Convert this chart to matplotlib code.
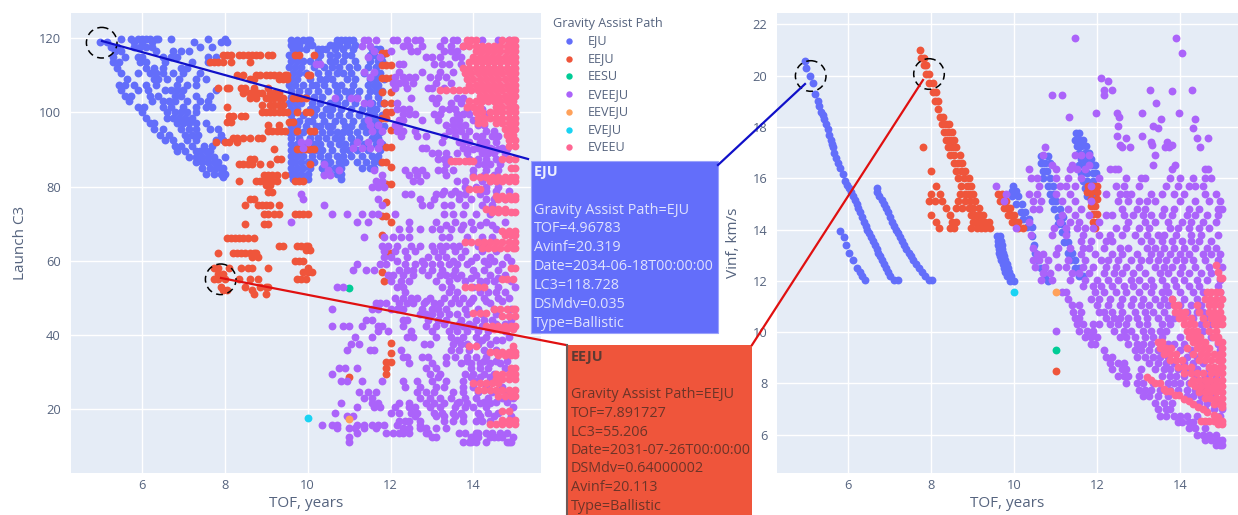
import matplotlib
matplotlib.use('Agg')
import matplotlib.pyplot as plt
from matplotlib.patches import Circle, Rectangle
from matplotlib.lines import Line2D

#### values: each row is (y value, [TOF values])
eju_c3 = [
    (119.7, [5.5, 5.75, 5.9, 6.0, 6.1, 6.2, 6.35, 6.4, 6.7, 7.6, 8.0]),
    (118.9, [5.0, 5.15, 5.8, 6.0, 6.25, 7.25, 7.9, 8.05]),
    (117.7, [5.25, 5.4, 5.8, 5.95, 6.1, 6.25, 7.4, 7.7]),
    (116.5, [5.35, 5.5, 6.35, 6.75, 6.95, 7.15]),
    (115, [5.3, 5.6, 5.9, 6.0, 6.5, 6.7, 6.85, 7.6, 7.8]),
    (113.5, [5.3, 5.45, 5.95, 6.1, 6.55, 7.2, 7.6]),
    (112, [5.4, 6.1, 6.3, 6.5, 6.95, 7.1]),
    (110.5, [5.5, 5.9, 6.2, 6.35, 6.5, 6.75, 7.0, 7.4]),
    (109, [5.65, 6.3, 6.4, 6.6, 6.9, 7.3, 7.55]),
    (107.5, [5.45, 5.6, 5.8, 6.1, 6.35, 6.85, 7.1, 7.3]),
    (106, [5.5, 5.9, 6.15, 6.55, 6.7, 6.85, 7.0, 7.8]),
    (104.5, [5.6, 5.75, 6.2, 6.4, 6.8, 6.95, 7.3, 7.65]),
    (103, [5.7, 6.25, 6.5, 6.65, 6.8, 7.1, 7.4, 7.6]),
    (101.5, [5.9, 6.05, 6.5, 6.7, 7.0, 7.3, 7.55, 7.7]),
    (100, [6.0, 6.6, 6.8, 6.95, 7.1, 7.3]),
    (98.5, [6.1, 6.6, 6.75, 6.9, 7.05, 7.2]),
    (97, [6.2, 6.3, 6.85, 7.0, 7.15, 7.3, 7.55]),
    (95.5, [6.3, 6.5, 6.95, 7.15, 7.3, 7.65, 7.85]),
    (94, [6.45, 6.65, 7.05, 7.2, 7.35, 7.9]),
    (92.5, [6.55, 6.75, 7.1, 7.3, 7.8, 7.95]),
    (91, [6.8, 6.95, 7.2, 7.5, 7.7]),
    (89.5, [6.85, 7.05, 7.3, 7.4, 7.55, 7.65]),
    (88, [7.15, 7.3, 7.45, 7.6, 7.75, 8.0]),
    (86.5, [7.3, 7.45, 7.6, 7.75, 7.85]),
    (85, [7.45, 7.65, 7.8, 7.9, 7.95]),
    (83.5, [7.55, 7.75, 7.9, 8.0]),
    (82.5, [7.95]),
    (119.6, [9.6, 9.75, 9.9, 10.0, 10.05, 10.7, 10.8, 10.9, 11.0, 11.1]),
    (118.3, [9.6, 9.7, 9.8, 10.0, 10.1, 10.55, 10.65, 10.75, 10.95, 11.15]),
    (117, [9.65, 9.8, 9.95, 10.25, 10.35, 10.45, 10.65, 10.85, 11.1, 11.55, 11.65, 11.75]),
    (115.4, [9.55, 9.7, 10.2, 10.3, 10.55, 10.7, 10.9, 11.05, 11.5, 11.6, 11.8]),
    (113.8, [9.6, 9.75, 9.9, 10.05, 10.25, 10.55, 10.65, 10.85, 11.15, 11.5, 11.7, 11.8]),
    (112.2, [9.55, 9.7, 9.85, 10.15, 10.4, 10.6, 10.75, 11.0, 11.2, 11.45, 11.65]),
    (110.6, [9.65, 9.8, 9.95, 10.25, 10.5, 10.7, 10.85, 11.05, 11.35, 11.6, 11.75]),
    (109, [9.6, 9.75, 10.05, 10.3, 10.45, 10.6, 10.95, 11.15, 11.5, 11.65, 11.85]),
    (107.4, [9.55, 9.7, 9.9, 10.1, 10.2, 10.4, 10.65, 10.8, 11.1, 11.45, 11.6, 11.7]),
    (105.8, [9.6, 9.8, 10.0, 10.25, 10.5, 10.7, 10.9, 11.05, 11.25, 11.5, 11.65, 11.8]),
    (104.2, [9.6, 9.75, 9.95, 10.15, 10.35, 10.75, 11.0, 11.2, 11.45, 11.7]),
    (102.6, [9.55, 9.7, 9.85, 10.1, 10.3, 10.55, 10.7, 10.9, 11.15, 11.4, 11.55, 11.75, 11.85]),
    (101, [9.6, 9.75, 10.05, 10.2, 10.45, 10.6, 10.8, 11.05, 11.3, 11.5, 11.65]),
    (99.4, [9.6, 9.9, 10.15, 10.35, 10.55, 10.75, 11.0, 11.25, 11.45, 11.6, 11.8]),
    (97.8, [9.65, 9.8, 10.0, 10.1, 10.4, 10.65, 10.85, 11.1, 11.35, 11.55, 11.7]),
    (96.2, [9.6, 9.75, 9.95, 10.2, 10.3, 10.5, 10.6, 10.9, 11.05, 11.3, 11.45, 11.65, 11.85]),
    (94.6, [9.55, 9.7, 9.9, 10.15, 10.35, 10.55, 10.7, 10.85, 11.0, 11.2, 11.4, 11.6, 11.75]),
    (93, [9.6, 9.8, 10.05, 10.25, 10.45, 10.65, 10.8, 11.05, 11.25, 11.55, 11.7]),
    (91.4, [9.6, 9.75, 9.95, 10.15, 10.3, 10.55, 10.75, 10.9, 11.1, 11.35, 11.65, 11.8]),
    (89.8, [9.6, 9.7, 9.85, 10.05, 10.2, 10.35, 10.6, 10.85, 11.0, 11.2, 11.45, 11.75]),
    (88.2, [9.6, 9.75, 9.9, 10.1, 10.3, 10.5, 10.7, 10.85, 11.05, 11.3, 11.55, 11.7]),
    (86.6, [9.6, 9.7, 9.85, 10.0, 10.15, 10.4, 10.55, 10.75, 10.9, 11.2, 11.4, 11.6, 11.75]),
    (85, [9.6, 9.75, 9.9, 10.05, 10.35, 10.5, 10.65, 10.8, 11.3, 11.5, 11.6]),
    (83.5, [9.6, 9.7, 9.85, 10.0, 10.4, 10.55, 10.7, 10.8]),
    (82, [9.65, 9.75, 9.9, 10.0, 10.8]),
]
eeju_c3 = [
    (115.5, [7.95, 8.05, 8.15, 8.35, 8.45, 8.55, 8.65, 8.75, 8.85, 9.05, 9.15, 9.7, 9.8, 10.15]),
    (113.7, [7.65, 7.75, 7.85, 7.95, 8.15, 8.6]),
    (110, [8.3, 8.45, 8.75, 8.85, 9.0, 9.1, 9.2, 9.3, 9.45, 9.5, 10.0, 10.05]),
    (109, [8.6, 8.7, 9.3, 9.4, 9.5]),
    (106.5, [7.85, 8.05, 8.1, 8.4, 8.5, 8.7, 9.05]),
    (105.2, [8.45, 8.6, 8.7, 8.8, 8.9, 9.1, 9.2, 9.3]),
    (104, [8.6, 8.75, 9.0, 9.1, 9.2, 9.3, 9.4, 9.65, 9.75, 9.85, 9.95]),
    (102, [8.9, 9.1, 9.2, 9.3, 9.4]),
    (101.5, [8.05]),
    (100, [8.9, 9.0, 9.1, 9.2, 9.3, 9.4, 9.5, 9.75, 9.95, 10.05]),
    (99, [8.1, 8.2, 8.4, 8.5]),
    (97.5, [8.05, 8.15, 9.55, 9.65]),
    (96.5, [9.05, 9.3]),
    (95, [9.05, 9.15, 9.25, 9.35, 9.45, 9.75, 10.05, 10.15]),
    (93, [8.2, 8.3, 8.45, 8.6, 8.8, 8.9]),
    (92, [7.8, 8.0, 8.1, 8.3]),
    (90, [9.2, 9.75, 9.85, 9.95, 10.05, 10.15]),
    (87.5, [8.6, 8.7, 9.25, 9.35]),
    (86, [8.35, 8.45, 8.55, 8.65, 8.85, 9.1, 10.05]),
    (83, [8.95, 9.05, 9.15, 9.25, 9.45]),
    (81.5, [8.35, 8.75, 8.85, 8.95, 9.05, 9.15, 9.25, 9.7, 9.8, 9.9]),
    (80.5, [9.0, 9.1]),
    (78.5, [9.05, 9.15]),
    (76.5, [8.6, 8.7]),
    (75, [8.5, 8.8, 8.9, 9.0, 9.1, 9.3]),
    (72.5, [8.95, 9.05, 9.2, 9.3, 9.7, 9.8, 9.9, 10.0]),
    (70, [8.5, 8.95, 9.05]),
    (66, [8.05, 8.15, 8.25, 8.35, 8.45, 8.55, 8.7]),
    (64, [9.3, 9.4, 9.75, 9.85, 9.95, 10.0]),
    (63, [9.95, 10.05]),
    (62, [7.85, 8.2, 8.3, 8.4, 8.5, 8.6, 8.7, 8.75]),
    (61, [8.65, 8.8]),
    (60, [9.7, 9.8, 9.9]),
    (58, [7.75, 7.85, 8.1, 8.4, 8.55, 8.65, 9.05, 10.0]),
    (57, [9.9, 10.0, 10.1]),
    (56.5, [7.85, 7.95]),
    (55, [7.75, 7.85, 8.0, 8.35, 8.6, 8.8, 9.75, 9.85, 9.95]),
    (53, [7.9, 8.5, 8.85, 9.0, 9.05]),
    (52, [7.95, 8.05, 8.65]),
    (51, [8.7, 9.0]),
    (116, [11.8, 11.9]), (112.8, [11.8, 11.9, 12.0]), (109.2, [11.8, 11.9, 12.0]),
    (105.6, [11.8, 12.0]), (102.4, [11.85, 12.0]), (100.2, [11.9, 12.0]),
    (98.4, [11.8, 11.9]), (95.2, [12.0]), (90.7, [11.9, 12.0]), (86.7, [11.8, 11.9]),
    (85.3, [12.0]), (80.8, [11.9, 12.0]), (75.9, [11.9]), (72, [11.8, 11.9]),
    (70.5, [12.0]), (66.8, [11.8]), (62, [11.9, 12.0]), (57, [11.8]), (54.5, [11.85]),
    (37.7, [12.0]), (35, [12.0]), (32.8, [11.9, 12.0]), (31, [11.9]), (29.5, [11.9]),
    (28.5, [11.0]),
]
eveeju_c3 = [
    (119.5, [11.35, 11.45, 11.65, 12.05, 12.15, 12.4, 12.6, 12.7, 13.3, 13.5, 13.6, 14.2, 14.6, 14.85]),
    (118, [11.3, 11.5, 12.3, 12.45, 12.75, 13.2, 13.45, 13.75]),
    (116.5, [11.6, 12.0, 12.5, 12.65, 13.3, 13.45, 13.6]),
    (115, [11.45, 11.75, 12.85, 13.0, 13.2, 13.55, 13.7]),
    (113, [10.2, 10.3, 12.2, 12.3, 13.05, 13.25, 13.4, 13.7]),
    (111, [11.35, 11.6, 12.2, 12.75, 13.2, 13.5]),
    (109.5, [11.5, 12.1, 12.3, 12.45, 12.6, 12.95, 13.15, 13.35]),
    (108, [12.05, 12.2, 12.35, 12.55, 13.1, 13.45]),
    (106.5, [12.1, 12.4, 12.9, 13.0, 13.3]),
    (104, [10.65, 11.05, 11.2, 12.5, 13.0, 13.15, 13.6, 13.75]),
    (102.5, [11.35, 11.5, 12.15, 13.1, 13.45, 13.7]),
    (101, [12.15, 12.3, 12.45, 13.25, 13.4, 13.55, 13.85, 14.05, 14.2]),
    (99.5, [12.3, 12.45, 12.6, 13.05, 13.2, 13.6, 13.75, 13.9, 14.3]),
    (98, [11.45, 12.2, 12.3, 12.75, 13.15, 13.5, 13.65, 14.0, 14.2]),
    (96.5, [11.5, 11.7, 12.1, 12.2, 13.35, 13.5, 13.65, 13.8, 14.1, 14.25]),
    (95, [11.55, 11.8, 12.15, 12.3, 12.6, 13.4, 13.55, 13.7, 13.9, 14.3, 14.5]),
    (93.5, [12.25, 12.65, 12.85, 13.3, 13.55, 13.8, 14.05, 14.2, 14.45, 14.6]),
    (92, [9.85, 10.0, 11.2, 11.45, 11.75, 13.25, 13.65, 13.75, 13.9, 14.15, 14.3, 14.55]),
    (90.5, [9.9, 11.1, 11.3, 11.5, 11.7, 12.75, 12.85, 13.75, 14.1, 14.25, 14.4, 14.7]),
    (89, [13.0, 13.15, 13.35, 13.6, 13.85, 14.2, 14.35, 14.5, 14.75]),
    (87.5, [13.15, 13.3, 13.4, 13.9, 14.1, 14.3, 14.55, 14.85]),
    (86, [10.4, 13.35, 14.1, 14.25, 14.4, 14.65]),
    (84.5, [10.5, 10.75, 11.6, 12.35, 12.6, 12.75, 13.15, 13.3, 13.5, 14.0, 14.3, 14.6]),
    (83, [10.4, 10.55, 11.8, 12.45, 12.65, 12.85, 13.35, 14.0, 14.25, 14.5]),
    (81.5, [11.65, 11.8, 12.55, 12.7, 13.6, 13.8, 14.2, 14.4]),
    (80, [11.55, 11.7, 11.85, 13.8, 14.05, 14.3, 14.6]),
    (78, [9.85, 12.35, 12.5, 13.1, 13.25, 13.45, 13.65, 13.8, 14.15]),
    (76.5, [9.9, 11.7, 12.7, 13.05, 13.65, 13.95, 14.3, 14.5, 14.75]),
    (75, [10.4, 11.8, 12.75, 12.95, 13.3, 13.45, 13.8, 14.2, 14.45]),
    (72.5, [10.6, 10.95, 11.3, 11.55, 11.7, 12.1, 13.3, 13.5, 13.75, 14.05, 14.4]),
    (70.5, [9.6, 11.2, 11.45, 12.45, 13.1, 13.55, 13.95, 14.3, 14.75]),
    (68.5, [12.2, 12.45, 12.7, 13.0, 13.2, 13.45, 13.7, 14.0, 14.55]),
    (66.5, [11.35, 11.85, 12.05, 12.25, 12.45, 13.25, 13.4, 13.85, 14.2, 14.45]),
    (64, [11.8, 11.95, 12.15, 12.5, 12.7, 13.0, 13.2, 13.35, 13.5, 13.65, 14.1, 14.3]),
    (62.5, [11.85, 12.1, 12.35, 12.6, 13.05, 13.25, 13.55, 13.8, 14.2, 14.55]),
    (61, [11.85, 12.0, 12.4, 12.9, 13.15, 13.35, 13.7, 14.05, 14.4, 14.8]),
    (59, [11.2, 11.75, 11.9, 12.35, 12.6, 12.8, 13.0, 13.2, 13.4, 13.6, 13.85, 14.35, 14.7]),
    (57.5, [11.1, 11.4, 11.6, 12.2, 12.4, 12.55, 12.75, 13.0, 13.25, 13.55, 14.0, 14.25, 14.6]),
    (56, [11.95, 12.05, 12.3, 12.55, 12.9, 13.2, 13.35, 13.5, 13.7, 14.05, 14.4, 14.75]),
    (54.5, [12.0, 12.25, 12.45, 13.1, 13.4, 13.8, 14.15, 14.3, 14.5, 14.9]),
    (53, [10.7, 10.85, 12.15, 12.3, 13.25, 13.45, 14.0, 14.6, 15.0]),
    (51.5, [12.35, 13.4, 13.6, 14.15, 14.35, 14.55, 14.75]),
    (50, [12.1, 12.3, 12.5, 12.65, 12.95, 13.3, 13.55, 13.75, 14.0, 14.25, 14.6, 14.85]),
    (48.5, [11.65, 11.75, 11.9, 12.2, 12.4, 12.55, 12.8, 13.05, 13.2, 13.45, 13.65, 13.9, 14.4]),
    (47, [10.6, 11.55, 11.7, 12.0, 12.15, 12.3, 12.75, 13.0, 13.15, 13.35, 13.8, 14.1, 14.5, 14.9]),
    (45.5, [12.7, 12.85, 13.0, 13.2, 13.4, 13.6, 13.85, 14.2, 14.55]),
    (44, [11.4, 11.55, 12.3, 12.4, 12.9, 13.15, 13.35, 13.7, 14.05, 14.25, 14.45, 14.9]),
    (42.5, [10.6, 10.85, 11.0, 11.3, 11.7, 11.8, 12.3, 12.85, 13.1, 13.5, 13.75, 14.0, 14.2]),
    (41, [11.7, 11.95, 12.5, 13.0, 13.4, 13.6, 13.85, 14.1, 14.35, 14.75]),
    (39.5, [11.15, 11.55, 12.4, 12.55, 13.1, 13.45, 13.75, 14.05, 14.3, 14.85]),
    (37.5, [11.05, 11.25, 12.8, 12.95, 13.5, 13.7, 13.85, 14.1, 14.4]),
    (36, [10.95, 11.5, 11.6, 12.25, 13.45, 13.65, 13.9, 14.25, 14.55, 14.95]),
    (34, [12.3, 12.4, 12.75, 12.9, 13.35, 13.55, 13.85, 14.05, 14.3]),
    (32.5, [12.45, 13.0, 13.35, 13.7, 13.95, 14.15, 14.4, 14.65]),
    (31, [10.75, 10.9, 11.2, 12.85, 13.1, 13.95, 14.15, 14.35, 14.75]),
    (29.5, [10.6, 12.95, 13.2, 13.8, 14.0, 14.25, 14.5]),
    (27.5, [10.8, 10.95, 11.3, 11.8, 12.3, 12.65, 13.0, 13.35, 13.75, 14.05, 14.4]),
    (26, [12.35, 12.7, 13.1, 13.3, 13.75, 14.0, 14.3, 14.7]),
    (24.5, [11.25, 11.45, 11.65, 12.65, 12.85, 13.05, 13.5, 13.75, 14.1, 14.45, 14.8]),
    (23, [11.35, 11.55, 12.7, 12.95, 13.2, 13.45, 13.8, 14.05, 14.35, 14.7, 14.95]),
    (21.5, [10.8, 11.55, 11.7, 12.2, 12.45, 12.85, 13.05, 13.3, 13.6, 13.85, 14.15, 14.4]),
    (20.5, [11.2, 11.6, 11.75, 12.1, 12.45, 12.6, 12.95, 13.2, 13.55, 13.8, 14.0, 14.3, 14.95]),
    (19, [10.65, 12.0, 12.2, 12.5, 12.65, 13.05, 13.25, 13.5, 13.7, 14.1, 14.35, 14.6]),
    (18, [10.95, 11.1, 12.6, 13.1, 13.3, 13.55, 13.75, 14.15, 14.5, 14.9]),
    (16.8, [12.2, 12.35, 12.45, 12.7, 13.3, 13.5, 13.75, 14.05, 14.2, 14.4]),
    (15.8, [10.35, 10.6, 10.7, 11.2, 11.35, 11.55, 11.7, 11.85, 12.15, 12.7]),
    (14.8, [10.7, 11.0, 11.15, 11.35, 11.65, 12.3, 12.45, 12.7, 12.85, 13.1, 13.35]),
    (13.5, [11.2, 11.9, 12.05, 12.2, 12.3, 12.45, 12.85, 12.9, 13.65, 13.8, 14.05, 14.1, 14.3, 14.45, 14.65, 14.8]),
    (12.5, [11.0, 13.0, 13.1, 13.95, 14.0, 14.1, 14.4, 14.5, 14.6, 14.7, 14.95]),
    (11, [11.0, 13.75, 13.9, 13.95, 14.05, 14.3, 14.8, 14.85, 14.9]),
    (60, [12.15, 12.75, 13.5, 13.95, 14.25, 14.5, 14.9]),
    (55.2, [13.6, 13.95, 14.6]),
    (49.2, [12.85, 13.95, 14.3, 14.7]),
    (43, [13.3, 13.65, 13.9, 14.55, 14.75]),
    (38.5, [13.6, 14.2, 14.55, 14.7]),
    (33, [13.85, 14.25, 14.55, 14.8]),
    (28.5, [13.15, 13.95, 14.15, 14.4]),
    (22, [13.65, 14.25, 14.55, 14.8]),
    (90, [13.85, 14.0, 14.45, 14.6, 14.8]),
    (78.8, [13.3, 13.55, 14.3, 14.55, 14.85]),
    (69.5, [13.35, 13.75, 14.15, 14.45]),
]
eveeu_c3 = [
    (119.5, [13.85, 13.95, 14.05, 14.7, 14.85, 14.95, 15.0]),
    (118, [13.75, 13.9, 14.05, 14.2, 14.35, 14.5, 14.65, 14.8, 14.95, 15.0]),
    (116.5, [14.05, 14.2, 14.35, 14.5, 14.65, 14.8, 14.95, 15.0]),
    (115, [14.0, 14.15, 14.3, 14.45, 14.6, 14.75, 14.9, 15.0]),
    (113.5, [13.9, 14.05, 14.2, 14.35, 14.5, 14.65, 14.8, 14.95, 15.0]),
    (112, [13.75, 13.9, 14.05, 14.2, 14.35, 14.5, 14.65, 14.8, 14.95, 15.0]),
    (110.5, [13.8, 13.95, 14.1, 14.25, 14.4, 14.55, 14.7, 14.85, 15.0]),
    (109, [13.85, 14.0, 14.15, 14.3, 14.45, 14.6, 14.75, 14.9, 15.0]),
    (107.5, [13.9, 14.05, 14.2, 14.35, 14.5, 14.65, 14.8, 14.95, 15.0]),
    (106, [13.2, 13.35, 13.5, 13.65, 13.8, 13.95, 14.1, 14.25, 14.4, 14.55, 14.7, 14.85, 15.0]),
    (104.5, [14.15, 14.3, 14.45, 14.6, 14.75, 14.9, 15.0]),
    (103, [13.9, 14.05, 14.2, 14.35, 14.5, 14.65, 14.8, 14.95]),
    (101.5, [13.85, 14.0, 14.15, 14.55, 14.7, 14.85, 15.0]),
    (100, [14.05, 14.2, 14.4, 14.55, 14.7, 14.85, 15.0]),
    (98.5, [14.1, 14.25, 14.4, 14.55, 14.7, 14.85, 15.0]),
    (97, [14.1, 14.25, 14.55, 14.7, 14.85, 15.0]),
    (95.5, [14.75, 14.9, 15.0]),
    (94, [14.8, 14.95]),
    (92.5, [14.85, 15.0]),
    (91, [14.85, 15.0]),
    (87.5, [14.7, 14.85, 15.0]),
    (87, [13.45, 13.55, 13.65, 13.8, 13.9, 14.0]),
    (85, [14.9, 15.0]),
    (82.5, [14.0, 14.15, 14.3, 14.45, 14.6, 14.75, 14.9, 15.0]),
    (81.5, [14.4, 14.55, 14.7, 14.85, 15.0]),
    (79.4, [13.9, 14.05, 14.15]),
    (77.5, [14.55, 14.7, 14.85, 15.0]),
    (76.5, [14.6, 14.75, 14.9, 15.0]),
    (74, [14.3, 14.45, 14.6, 14.75]),
    (73, [14.45, 14.6, 14.75, 14.9, 15.0]),
    (68, [14.7, 14.85, 15.0]),
    (67, [14.75, 14.9, 15.0]),
    (65, [13.8, 13.95, 14.1, 14.25, 14.4, 14.55, 14.7, 14.85, 15.0]),
    (63.5, [14.2, 14.35, 14.5, 14.65, 14.8, 14.95, 15.0]),
    (58, [14.9, 15.0]),
    (55, [14.7, 14.8, 14.95]),
    (53, [13.8, 13.95, 14.1, 14.25]),
    (47, [14.5, 14.65, 14.8, 14.95, 15.0]),
    (46, [14.0, 14.15, 14.3]),
    (45, [14.7, 14.85, 15.0]),
    (42.5, [14.3, 14.45, 14.6, 14.75, 14.9, 15.0]),
    (41.5, [14.5, 14.65, 14.8, 14.95]),
    (37, [13.9, 14.05, 14.95]),
    (35.5, [14.4, 14.55, 14.7, 14.85, 15.0]),
    (34.5, [14.6, 14.75, 14.9, 15.0]),
    (31, [14.9, 15.0]),
    (29.5, [14.55, 14.7, 14.85, 15.0]),
    (28, [14.55, 14.7, 14.85, 15.0]),
    (27, [14.0, 14.15, 14.3, 14.45, 14.6]),
    (25, [14.1, 14.25, 14.4, 14.55, 14.7, 14.85, 15.0]),
    (23.5, [14.6, 14.75, 14.9, 15.0]),
    (19.5, [14.7, 14.85]),
    (17, [14.7, 14.85, 15.0]),
    (16, [14.4, 14.55, 14.7, 14.85, 15.0]),
]
eesu_c3 = [(52.5, [11.0])]
eeveju_c3 = [(17.3, [11.0])]
eveju_c3 = [(17.5, [10.0])]

eju_vinf = [
    (20.55, [4.95]), (20.3, [4.97]), (20.0, [5.08]), (19.7, [5.15]), (19.3, [5.2]),
    (19.0, [5.27]), (18.8, [5.3]), (18.6, [5.35]), (18.45, [5.38]), (18.3, [5.42]), (18.1, [5.46]),
    (17.9, [5.5]), (17.7, [5.53]), (17.5, [5.57]), (17.35, [5.6]),
    (17.2, [5.62]), (17.0, [5.66]), (16.8, [5.7]), (16.6, [5.75]), (16.4, [5.8]), (16.15, [5.86]),
    (15.9, [5.92]), (15.75, [5.97]), (15.6, [6.02, 6.68]), (15.45, [6.06, 6.7]),
    (15.3, [6.1, 6.75]), (15.15, [6.15, 6.8]), (15.0, [6.2, 6.85]), (14.85, [6.24, 6.9]),
    (14.7, [6.28, 6.95]), (14.5, [6.33, 7.0]), (14.3, [6.38, 7.05]), (14.15, [6.42, 7.1]),
    (14.0, [6.45, 7.15]), (13.95, [5.8]), (13.85, [6.5, 7.2]), (13.7, [6.55, 5.9, 7.25]),
    (13.55, [6.6, 7.3]), (13.4, [6.65, 5.95, 7.35]), (13.25, [6.7, 7.4]),
    (13.1, [6.72, 6.02, 7.45]), (12.95, [6.76, 7.5]), (12.8, [6.8, 6.1, 7.55]), (12.65, [6.85, 7.62]),
    (12.5, [6.9, 6.22, 7.7]), (12.35, [6.95, 6.28, 7.78]),
    (12.2, [7.0, 6.32, 7.85]), (12.05, [7.1, 6.4, 7.2, 7.95, 8.02]),
    (15.7, [9.97]), (15.5, [9.95, 10.05]), (15.3, [9.95, 10.1]), (15.0, [10.05, 10.18]),
    (14.7, [10.15, 10.25]), (14.4, [10.2, 10.35]), (14.1, [10.3, 10.42]),
    (13.75, [9.58, 9.65, 10.42]), (13.4, [9.6, 9.7, 10.47]), (13.1, [9.62, 9.72, 10.5]),
    (12.8, [9.68, 9.78, 10.58]), (12.5, [9.75, 9.85, 10.65, 10.72]), (12.2, [9.82, 9.92, 10.75]),
    (12.0, [9.9, 10.0, 10.82]), (13.55, [9.6, 9.68]), (13.25, [9.62, 9.7]), (12.95, [9.65, 9.75]),
    (12.65, [9.72, 9.82]), (12.35, [9.78, 9.88]),
    (16.85, [10.65, 10.8]), (16.6, [10.65, 10.75, 10.85]), (16.3, [10.68, 10.78]),
    (16.0, [10.7, 10.85]), (15.7, [10.8, 10.92]), (15.4, [10.85, 10.95]), (15.1, [10.9, 11.0]),
    (14.8, [10.95, 11.1]), (14.5, [11.05, 11.18]), (14.2, [11.05, 11.15]), (13.9, [11.15, 11.25]),
    (13.5, [11.2, 11.3]), (13.1, [11.3, 11.38]), (12.8, [11.35, 11.45]), (12.5, [11.45, 11.55]),
    (12.2, [11.55, 11.65]),
    (17.75, [11.48, 11.55]), (17.5, [11.45, 11.55, 11.65]), (17.25, [11.5, 11.6, 11.72]),
    (17.0, [11.55, 11.7, 11.8]), (16.75, [11.6, 11.7, 11.85]), (16.5, [11.55, 11.7, 11.85, 11.95]),
    (16.2, [11.6, 11.75, 11.9, 11.97]), (15.9, [11.65, 11.75, 11.9]), (15.6, [11.7, 11.85]),
    (15.3, [11.75, 11.9]),
]
eeju_vinf = [
    (21.0, [7.72]), (20.7, [7.75, 7.82]), (20.4, [7.83, 7.88]), (20.05, [7.88, 7.95]),
    (19.7, [7.95, 8.03]), (19.35, [8.05, 8.1]), (19.0, [8.08, 8.15]), (18.7, [8.15]),
    (18.4, [8.2, 8.28]), (18.1, [8.25, 8.35, 8.42]), (17.8, [8.3, 8.4, 8.5]),
    (17.5, [8.35, 8.45, 8.55]), (17.2, [7.8, 8.4, 8.5, 8.6]), (16.9, [8.45, 8.55, 8.68]),
    (16.6, [8.55, 8.65, 8.75]), (16.3, [8.0, 8.6, 8.72, 8.82]), (16.0, [8.65, 8.78, 8.9]),
    (15.7, [8.1, 8.72, 8.85, 8.95]), (15.4, [8.0, 8.2, 8.7, 8.8, 8.9, 9.0, 9.6, 9.7]),
    (15.1, [7.95, 8.08, 8.25, 8.65, 8.8, 8.92, 9.05, 9.65, 9.75, 9.8]),
    (14.85, [8.35, 8.6, 8.75, 8.9, 9.0, 9.15, 9.75, 9.85, 9.9]),
    (14.55, [8.0, 8.45, 8.95, 9.05, 9.15, 9.25, 9.85, 9.95, 10.0]),
    (14.3, [8.1, 8.5, 8.6, 9.0, 9.1, 9.2, 9.3, 9.4, 9.95, 10.05, 10.1]),
    (14.05, [8.18, 8.45, 8.55, 8.95, 9.1, 9.2, 9.3, 9.42, 10.1, 10.2]),
    (15.7, [11.78, 11.9, 12.0]), (15.45, [11.75, 11.85, 12.0]), (15.2, [11.85, 12.0]),
    (14.9, [11.85, 11.95]), (14.6, [11.9, 12.0]), (14.3, [11.9, 12.0]), (14.05, [11.95]),
    (8.5, [11.0]),
]
eveeju_vinf = [
    (21.45, [11.45, 13.9]), (20.9, [14.03]), (19.9, [12.08]), (19.8, [12.25]),
    (19.45, [12.15, 12.35, 13.27, 14.27]), (19.4, [13.8]), (19.25, [10.9, 11.16, 12.17]),
    (18.95, [13.41]), (18.55, [11.97, 12.47, 13.08, 13.96]), (18.4, [11.32, 12.53]),
    (18.3, [13.53, 14.36]), (18.05, [12.5, 13.35]), (17.95, [13.45, 14.3]),
    (17.65, [12.47, 13.07]), (17.55, [12.7, 14.4, 14.67]), (17.4, [13.3, 13.68]),
    (17.3, [12.55, 13.8, 13.32]), (17.2, [10.75, 12.6, 12.78, 13.63, 13.72, 14.48]),
    (16.9, [10.7, 11.45, 11.6, 11.8, 13.38]), (16.5, [10.9, 11.4, 11.8, 13.33, 13.88]),
    (16.35, [10.35, 11.0, 11.35, 11.5, 11.7, 12.3, 12.42, 12.5, 13.8, 14.6, 14.67]),
    (16.0, [10.4, 10.55, 11.0, 11.3, 11.6, 12.05, 12.7, 13.05, 13.15, 13.75, 14.0, 14.3, 14.6, 14.75]),
    (15.7, [9.55, 10.6, 11.1, 11.25, 11.45, 11.85, 12.45, 12.65, 13.0, 13.65, 13.95, 14.2, 14.35, 14.55]),
    (15.4, [9.8, 10.35, 10.55, 11.0, 11.35, 12.2, 12.55, 12.7, 12.8, 13.3, 13.55, 13.85, 14.1, 14.6, 14.85]),
    (15.1, [9.75, 10.45, 10.65, 11.15, 11.45, 11.85, 12.5, 12.75, 13.0, 13.2, 13.4, 14.0, 14.35, 14.7, 14.95]),
    (14.8, [10.45, 10.6, 11.3, 11.6, 12.6, 12.95, 13.15, 13.6, 13.85, 14.2, 14.45, 14.9, 15.0]),
    (14.55, [11.15, 11.45, 11.8, 12.2, 12.35, 12.65, 12.85, 13.1, 13.3, 13.55, 13.8, 14.15, 14.35, 14.65, 14.9]),
    (14.3, [10.35, 11.1, 11.35, 11.55, 12.05, 12.75, 13.15, 13.4, 13.7, 14.05, 14.25, 14.55, 14.85]),
    (14.05, [10.05, 10.95, 11.25, 11.5, 11.7, 11.9, 12.45, 12.7, 13.0, 13.25, 13.75, 13.95, 14.2, 14.45, 14.7]),
    (13.8, [10.4, 10.9, 11.25, 11.65, 12.05, 12.3, 12.6, 12.9, 13.2, 13.45, 13.6, 13.9, 14.25, 14.5, 14.9]),
    (13.55, [11.6, 11.85, 12.2, 12.35, 13.05, 13.3, 13.55, 13.8, 14.05, 14.25, 14.45, 14.75]),
    (13.3, [10.45, 11.05, 11.35, 11.65, 11.8, 12.15, 12.55, 12.75, 13.2, 13.4, 13.6, 13.85, 14.1, 14.35, 14.65, 14.85]),
    (13.05, [10.55, 10.7, 11.0, 11.6, 11.95, 12.35, 12.6, 12.95, 13.3, 13.5, 13.75, 14.0, 14.2, 14.55, 14.75, 14.95]),
    (12.8, [10.45, 10.6, 10.8, 11.3, 11.7, 12.1, 12.25, 12.5, 12.8, 13.05, 13.25, 13.45, 13.65, 13.9, 14.1, 14.3, 14.6, 14.9]),
    (12.55, [10.5, 10.75, 11.05, 11.25, 11.65, 11.9, 12.2, 12.45, 12.7, 13.0, 13.4, 13.6, 13.8, 14.05, 14.35, 14.7, 15.0]),
    (12.3, [10.7, 10.85, 11.4, 11.55, 11.8, 12.15, 12.4, 12.6, 12.85, 13.15, 13.5, 13.7, 14.0, 14.2, 14.5, 14.75]),
    (12.05, [10.65, 10.9, 11.35, 11.7, 12.0, 12.25, 12.5, 12.8, 13.0, 13.3, 13.55, 13.85, 14.1, 14.4, 14.65, 14.95]),
    (11.8, [11.65, 11.9, 12.1, 12.35, 12.65, 12.85, 13.15, 13.35, 13.65, 13.9, 14.2, 14.45, 14.9]),
    (11.55, [11.15, 11.25, 11.95, 12.15, 12.45, 12.7, 13.0, 13.3, 13.55, 13.7, 14.0, 14.3, 14.55, 14.95]),
    (11.3, [11.3, 11.85, 12.05, 12.3, 12.6, 12.85, 13.1, 13.4, 13.6, 13.8, 14.1, 14.4]),
    (11.05, [11.4, 11.55, 12.0, 12.25, 12.55, 12.8, 13.05, 13.25, 13.5, 13.7, 14.0, 14.25, 14.5]),
    (10.8, [11.42, 11.6, 12.05, 12.15, 12.35, 12.6, 12.9, 13.15, 13.35, 13.6, 14.15, 14.4, 14.55]),
    (10.55, [11.45, 11.55, 12.2, 12.4, 12.55, 12.75, 12.95, 13.2, 13.45, 13.7, 13.85, 14.3, 14.6]),
    (10.3, [11.5, 11.65, 11.9, 12.05, 12.3, 12.5, 12.7, 13.0, 13.2, 13.55, 13.75, 14.5, 14.75]),
    (10.05, [11.0, 11.55, 11.75, 11.9, 12.4, 12.65, 12.8, 13.1, 13.3, 13.5, 13.65, 14.55]),
    (9.8, [11.7, 11.85, 12.0, 12.55, 12.7, 12.9, 13.15, 13.35, 13.55, 14.0, 14.75]),
    (9.55, [11.85, 11.95, 12.75, 12.95, 13.1, 13.3, 13.7, 13.85, 14.1, 14.9]),
    (9.3, [12.15, 12.9, 13.05, 13.25, 13.45, 13.65, 14.0, 14.25, 14.95]),
    (9.05, [12.2, 12.35, 12.95, 13.15, 13.35, 13.5, 13.7, 14.15, 14.4]),
    (8.8, [12.3, 12.5, 12.65, 13.25, 13.45, 13.65, 13.85, 14.1, 14.3, 14.55]),
    (8.55, [12.35, 12.6, 12.7, 13.05, 13.4, 13.6, 13.75, 13.95, 14.2, 14.4, 14.7]),
    (8.3, [12.5, 12.65, 12.75, 13.0, 13.55, 13.75, 13.9, 14.1, 14.35, 14.6, 14.85]),
    (8.0, [12.7, 12.95, 13.1, 13.35, 13.7, 13.85, 14.0, 14.2, 14.5, 14.75]),
    (7.75, [13.0, 13.15, 13.3, 13.5, 13.75, 13.95, 14.15, 14.35, 14.6, 14.9]),
    (7.5, [13.1, 13.25, 13.45, 13.7, 14.15, 14.3, 14.5, 14.75]),
    (7.25, [13.4, 13.6, 13.8, 14.45, 14.65, 14.85]),
    (7.0, [13.45, 13.65, 13.75, 14.6, 14.8, 15.0]),
    (6.75, [13.5, 13.65, 13.85, 14.0, 14.15, 14.4, 14.95]),
    (6.5, [13.95, 14.05, 14.2, 14.3]),
    (6.25, [14.2, 14.35, 14.6]),
    (6.0, [14.4, 14.55, 14.7, 14.85]),
    (5.8, [14.6, 14.75, 14.9, 15.0]),
    (5.6, [14.85, 14.95, 15.0]),
]
eveeu_vinf = [
    (12.6, [14.85]), (12.35, [14.9]), (12.1, [15.0, 14.95]),
    (11.55, [14.65, 14.75, 14.85, 14.95]),
    (11.3, [13.8, 14.6, 14.72, 14.85, 15.0]),
    (11.05, [13.85, 13.95, 14.4, 14.7, 14.82, 14.95]),
    (10.8, [13.88, 14.0, 14.12, 14.45, 14.7, 14.82, 14.95]),
    (10.55, [13.98, 14.1, 14.25, 14.55, 14.75, 14.88, 15.0]),
    (10.3, [14.08, 14.2, 14.32, 14.62, 14.8, 14.92, 15.0]),
    (10.05, [14.15, 14.28, 14.4, 14.7, 14.85]),
    (9.8, [14.22, 14.35, 14.48, 14.78, 14.9]),
    (9.6, [13.45, 13.55, 14.3, 14.45, 14.6, 14.9, 15.0]),
    (9.4, [13.52, 13.65, 13.78, 14.15, 14.4, 14.55, 14.7, 15.0]),
    (9.15, [13.6, 13.75, 13.9, 14.3, 14.5, 14.65, 14.8, 14.95, 15.0]),
    (8.9, [13.75, 13.9, 14.05, 14.45, 14.6, 14.75, 14.9, 15.0]),
    (8.65, [13.95, 14.1, 14.25, 14.7, 14.82, 14.95, 15.0]),
    (8.4, [14.1, 14.25, 14.4, 14.55, 14.75, 14.88, 15.0]),
    (8.25, [13.2]), (8.15, [13.3, 14.3, 14.45, 14.6, 14.72, 14.85, 15.0]),
    (8.0, [13.4, 13.5, 14.25]),
    (7.9, [14.35, 14.5, 14.65, 14.78, 14.9, 15.0]),
    (7.8, [13.6]), (7.7, [13.65, 13.75]),
    (7.65, [14.45, 14.6, 14.72, 14.85, 15.0]),
    (7.55, [13.88, 13.98]), (7.42, [14.6, 14.72, 14.85, 15.0]), (7.4, [14.08]),
    (7.3, [14.2]), (7.2, [14.3, 14.82, 14.95, 15.0]), (7.1, [14.42, 15.0]), (7.0, [14.55]),
    (6.9, [14.65]), (6.78, [14.8]), (6.68, [14.9]), (6.55, [15.0, 14.6, 14.7, 14.82, 14.5]),
    (6.42, [14.92, 15.0]),
]
eesu_vinf = [(9.3, [11.0])]
eeveju_vinf = [(11.55, [11.0])]
eveju_vinf = [(11.55, [10.0])]

names = ['EJU', 'EEJU', 'EESU', 'EVEEJU', 'EEVEJU', 'EVEJU', 'EVEEU']
colors = ['#636EFA', '#EF553B', '#00CC96', '#AB63FA', '#FFA15A', '#19D3F3', '#FF6692']
left_rows = [eju_c3, eeju_c3, eesu_c3, eveeju_c3, eeveju_c3, eveju_c3, eveeu_c3]
right_rows = [eju_vinf, eeju_vinf, eesu_vinf, eveeju_vinf, eeveju_vinf, eveju_vinf, eveeu_vinf]

eju_box = ['Gravity Assist Path=EJU', 'TOF=4.96783', 'Avinf=20.319', 'Date=2034-06-18T00:00:00',
           'LC3=118.728', 'DSMdv=0.035', 'Type=Ballistic']
eeju_box = ['Gravity Assist Path=EEJU', 'TOF=7.891727', 'LC3=55.206', 'Date=2031-07-26T00:00:00',
            'DSMdv=0.64000002', 'Avinf=20.113', 'Type=Ballistic']

W, H = 1238, 515
TICK = '#56647f'
plt.rcParams['font.family'] = ['Open Sans', 'DejaVu Sans']
fig = plt.figure(figsize=(W / 100, H / 100), dpi=100)


def make_axes(box, xlim, ylim, yticks, ylabel):
    ax = fig.add_axes([box[0] / W, 1 - box[3] / H, (box[2] - box[0]) / W, (box[3] - box[1]) / H])
    ax.set_facecolor('#E5ECF6')
    ax.set_xlim(xlim)
    ax.set_ylim(ylim)
    ax.set_xticks([6, 8, 10, 12, 14])
    ax.set_yticks(yticks)
    ax.grid(color='white', linewidth=1)
    ax.set_axisbelow(True)
    ax.tick_params(length=0, labelsize=9.3, colors=TICK)
    ax.tick_params(axis='x', pad=4)
    ax.tick_params(axis='y', pad=7)
    for s in ax.spines.values():
        s.set_visible(False)
    ax.set_xlabel('TOF, years', fontsize=11, color=TICK, labelpad=3)
    ax.set_ylabel(ylabel, fontsize=11, color=TICK, labelpad=8)
    return ax


def draw(ax, rows_per_series):
    for name, color, rows in zip(names, colors, rows_per_series):
        xs = [x for y, row in rows for x in row]
        ys = [y for y, row in rows for x in row]
        ax.scatter(xs, ys, s=32, color=color, linewidths=0, label=name)


ax1 = make_axes((70.5, 13, 541, 473.3), (4.28, 15.63), (2.65, 126.8), [20, 40, 60, 80, 100, 120], 'Launch C3')
ax2 = make_axes((777, 13, 1238, 473.3), (4.28, 15.39), (4.5, 22.44), [6, 8, 10, 12, 14, 16, 18, 20, 22], 'Vinf, km/s')
draw(ax1, left_rows)
draw(ax2, right_rows)

#### overlay in pixel coordinates for legend, callouts and circles
ov = fig.add_axes([0, 0, 1, 1], zorder=5)
ov.set_xlim(0, W)
ov.set_ylim(H, 0)
ov.axis('off')

ov.text(553, 23, 'Gravity Assist Path', fontsize=9.1, color=TICK, va='center')
for i, (name, color) in enumerate(zip(names, colors)):
    ypos = 41 + i * 17.7
    ov.add_line(Line2D([569], [ypos], marker='o', ms=4.6, color=color, mew=0))
    ov.text(588, ypos, name, fontsize=9.1, color=TICK, va='center')

ov.plot([102, 528], [41, 159], color='#1010c8', lw=1.6)
ov.plot([221, 566], [278, 345], color='#e01010', lw=1.6)
ov.plot([718, 805], [165, 84], color='#1010c8', lw=1.6)
ov.plot([752, 923], [345, 80], color='#e01010', lw=1.6)

for cx, cy in [(101.7, 42.7), (220.7, 279.3), (810.7, 76), (929, 74)]:
    ov.add_patch(Circle((cx, cy), 15.3, fill=False, ec='black', lw=1.1, ls=(0, (4.5, 3))))

ov.add_patch(Rectangle((531, 161), 187, 172, fc='#636EFA', ec='#9aa2fb', lw=0.8))
ov.text(534, 172, 'EJU', fontsize=10.4, fontweight='bold', color='#eceefe', va='center')
for i, line in enumerate(eju_box):
    ov.text(534, 210 + i * 18.85, line, fontsize=10.4, color='#dfe2fd', va='center')

ov.add_patch(Rectangle((566, 345), 186, 172, fc='#EF553B', ec='none'))
ov.plot([567, 567], [345, 515], color='#6f5a58', lw=1.5)
ov.text(571, 357, 'EEJU', fontsize=10.4, fontweight='bold', color='#5e3a33', va='center')
for i, line in enumerate(eeju_box):
    ov.text(571, 395 + i * 18.5, line, fontsize=10.4, color='#6d3428', va='center')

fig.savefig('out.png', dpi=100)
